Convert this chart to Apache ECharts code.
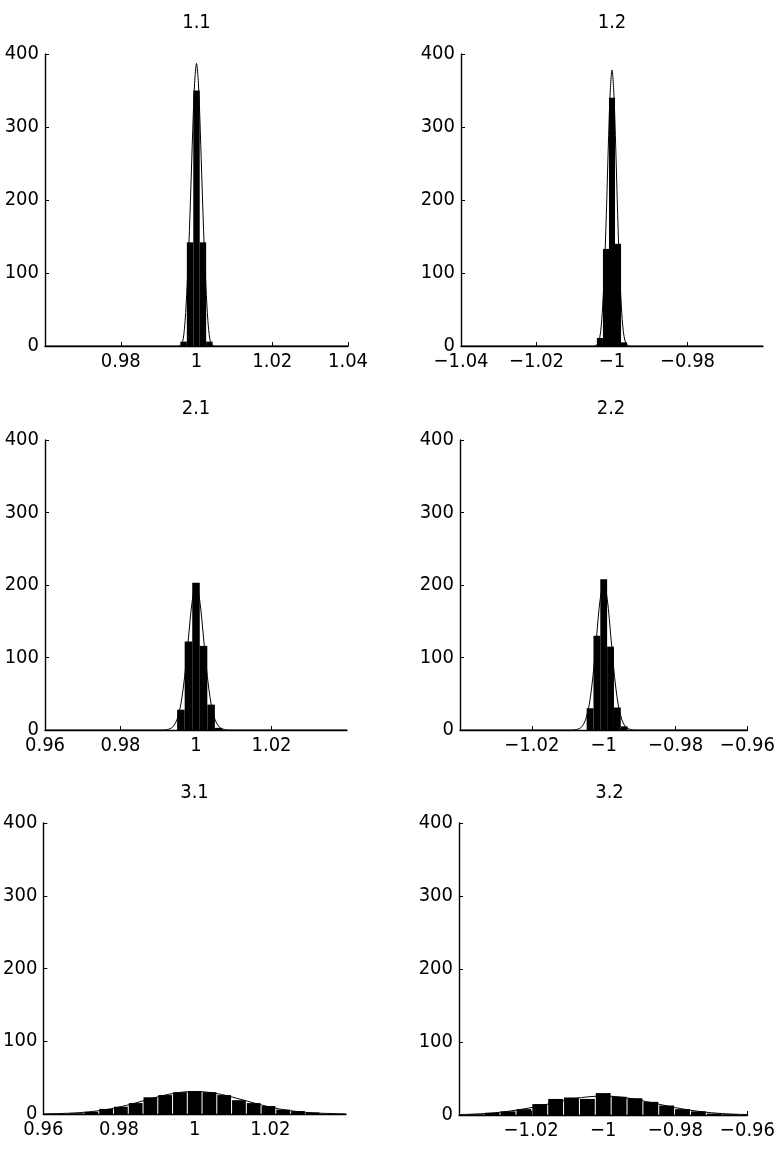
<!DOCTYPE html>
<html>
<head>
    <meta charset="UTF-8">
    <title>Histograms 1.1 - 3.2</title>
    <script src="https://cdn.jsdelivr.net/npm/echarts@6/dist/echarts.min.js"></script>
    <style>
        html, body { margin: 0; padding: 0; background: #fff; }
        #chart { width: 778px; height: 1157px; }
    </style>
</head>
<body>
    <div id="chart"></div>
    <script>
        // panel titles and the shared count axis
        var panelTitles = ['1.1', '1.2', '2.1', '2.2', '3.1', '3.2'];
        var yTicks = [0, 100, 200, 300, 400];

        // x limits of each panel
        var xLimits = [[0.96, 1.04], [-1.04, -0.96], [0.96, 1.04], [-1.04, -0.96], [0.96, 1.04], [-1.04, -0.96]];

        // histogram bins (centres, counts, bin width)
        var centers11 = [0.9966, 0.9983, 1.0, 1.0017, 1.0034];
        var counts11 = [6, 142, 350, 142, 6];
        var binWidth11 = 0.0017;

        var centers12 = [-1.0032, -1.0016, -1.0, -0.9984, -0.9968];
        var counts12 = [11, 133, 340, 140, 5];
        var binWidth12 = 0.0016;

        var centers21 = [0.996, 0.998, 1.0, 1.002, 1.004, 1.006];
        var counts21 = [28, 122, 203, 116, 35, 3];
        var binWidth21 = 0.002;

        var centers22 = [-1.0038, -1.0019, -1.0, -0.9981, -0.9962, -0.9943];
        var counts22 = [30, 130, 208, 115, 31, 5];
        var binWidth22 = 0.0019;

        var centers31 = [0.9688, 0.9727, 0.9766, 0.9805, 0.9844, 0.9883, 0.9922, 0.9961, 1.0,
                         1.0039, 1.0078, 1.0117, 1.0156, 1.0195, 1.0234, 1.0273, 1.0312];
        var counts31 = [1, 3, 7, 10, 15, 23, 26, 30, 31, 30, 26, 19, 15, 11, 6, 4, 2];
        var binWidth31 = 0.0039;

        var centers32 = [-1.0352, -1.0308, -1.0264, -1.022, -1.0176, -1.0132, -1.0088, -1.0044, -1.0,
                         -0.9956, -0.9912, -0.9868, -0.9824, -0.978, -0.9736, -0.9692, -0.9648];
        var counts32 = [1, 3, 5, 8, 15, 22, 24, 22, 30, 25, 23, 18, 13, 8, 5, 2, 1];
        var binWidth32 = 0.0044;

        // fitted curves
        var curveX11 = [0.96, 0.995, 0.9955, 0.996, 0.9965, 0.997, 0.9975, 0.998, 0.9985, 0.999, 0.9995, 1.0,
                        1.0005, 1.001, 1.0015, 1.002, 1.0025, 1.003, 1.0035, 1.004, 1.0045, 1.005, 1.04];
        var curveY11 = [0, 0, 0.5, 2, 10, 35, 80, 140, 215, 295, 360, 387,
                        360, 295, 215, 140, 80, 35, 10, 2, 0.5, 0, 0];

        var curveX12 = [-1.04, -1.005, -1.0045, -1.004, -1.0035, -1.003, -1.0025, -1.002, -1.0015, -1.001, -1.0005, -1.0,
                        -0.9995, -0.999, -0.9985, -0.998, -0.9975, -0.997, -0.9965, -0.996, -0.9955, -0.995, -0.96];
        var curveY12 = [0, 0, 0.3, 1.5, 6, 20, 52, 105, 180, 270, 345, 378,
                        345, 270, 180, 105, 52, 20, 6, 1.5, 0.3, 0, 0];

        var curveX21 = [0.96, 0.991, 0.992, 0.993, 0.994, 0.995, 0.996, 0.997, 0.998, 0.999, 1.0,
                        1.001, 1.002, 1.003, 1.004, 1.005, 1.006, 1.007, 1.008, 1.009, 1.04];
        var curveY21 = [0, 0, 0.3, 1.5, 5, 15, 36, 74, 127, 178, 200,
                        178, 127, 74, 36, 15, 5, 1.5, 0.3, 0, 0];

        var curveX22 = [-1.04, -1.009, -1.008, -1.007, -1.006, -1.005, -1.004, -1.003, -1.002, -1.001, -1.0,
                        -0.999, -0.998, -0.997, -0.996, -0.995, -0.994, -0.993, -0.992, -0.991, -0.96];
        var curveY22 = [0, 0, 0.3, 1.5, 5, 15, 36, 74, 128, 180, 202,
                        180, 128, 74, 36, 15, 5, 1.5, 0.3, 0, 0];

        var curveX31 = [0.96, 0.964, 0.968, 0.972, 0.976, 0.98, 0.984, 0.988, 0.992, 0.996, 1.0,
                        1.004, 1.008, 1.012, 1.016, 1.02, 1.024, 1.028, 1.032, 1.036, 1.04];
        var curveY31 = [0.2, 0.6, 1.4, 2.9, 5.5, 9.5, 14.6, 20.4, 25.8, 29.6, 31,
                        29.6, 25.8, 20.4, 14.6, 9.5, 5.5, 2.9, 1.4, 0.6, 0.2];

        var curveX32 = [-1.04, -1.036, -1.032, -1.028, -1.024, -1.02, -1.016, -1.012, -1.008, -1.004, -1.0,
                        -0.996, -0.992, -0.988, -0.984, -0.98, -0.976, -0.972, -0.968, -0.964, -0.96];
        var curveY32 = [0.6, 1.2, 2.3, 4.1, 6.7, 10.1, 14.2, 18.4, 22.3, 25, 26,
                        25, 22.3, 18.4, 14.2, 10.1, 6.7, 4.1, 2.3, 1.2, 0.6];

        var panels = [
            { centers: centers11, counts: counts11, width: binWidth11, cx: curveX11, cy: curveY11 },
            { centers: centers12, counts: counts12, width: binWidth12, cx: curveX12, cy: curveY12 },
            { centers: centers21, counts: counts21, width: binWidth21, cx: curveX21, cy: curveY21 },
            { centers: centers22, counts: counts22, width: binWidth22, cx: curveX22, cy: curveY22 },
            { centers: centers31, counts: counts31, width: binWidth31, cx: curveX31, cy: curveY31 },
            { centers: centers32, counts: counts32, width: binWidth32, cx: curveX32, cy: curveY32 }
        ];

        // layout
        var grids = [
            { left: 45, top: 54, width: 303, height: 292 },
            { left: 461, top: 54, width: 302, height: 292 },
            { left: 45, top: 440, width: 302, height: 290 },
            { left: 460, top: 440, width: 302, height: 290 },
            { left: 43, top: 823, width: 303, height: 291 },
            { left: 459, top: 823, width: 301, height: 292 }
        ];
        var titleTops = [13, 13, 399, 399, 783, 783];
        // which end label is hidden on each x axis
        var hideMin = [true, false, false, true, false, true];
        var hideMax = [false, true, true, false, true, false];
        // row 3 shows thin white gaps between bars
        var barGap = [0, 0, 0, 0, 1, 1];

        var FONT = '"Liberation Sans Narrow", "DejaVu Sans Condensed", "Liberation Sans", sans-serif';
        var FS = 20;

        function fmt(v) {
            return String(+v.toFixed(4)).replace('-', '\u2212');
        }

        function barRenderer(w, gap) {
            return function (params, api) {
                var x = api.value(0), y = api.value(1);
                var p0 = api.coord([x - w / 2, y]);
                var p1 = api.coord([x + w / 2, 0]);
                return {
                    type: 'rect',
                    shape: { x: p0[0] + gap / 2, y: p0[1], width: p1[0] - p0[0] - gap, height: p1[1] - p0[1] },
                    style: { fill: '#000' }
                };
            };
        }

        var option = { animation: false, backgroundColor: '#fff', title: [], grid: [], xAxis: [], yAxis: [], series: [] };

        panels.forEach(function (p, i) {
            var g = grids[i];
            option.grid.push({ left: g.left, top: g.top, width: g.width, height: g.height, containLabel: false });
            option.title.push({
                text: panelTitles[i], left: g.left + g.width / 2, top: titleTops[i], padding: 0,
                textAlign: 'center',
                textStyle: { color: '#000', fontSize: FS, fontWeight: 'normal', fontFamily: FONT }
            });
            option.xAxis.push({
                type: 'value', gridIndex: i, min: xLimits[i][0], max: xLimits[i][1], interval: 0.02,
                axisLine: { show: true, onZero: false, lineStyle: { color: '#000', width: 1.4 } },
                axisTick: { show: true, inside: true, length: 4, lineStyle: { color: '#000', width: 1 } },
                splitLine: { show: false },
                axisLabel: {
                    color: '#000', fontSize: FS, fontFamily: FONT, margin: 6,
                    showMinLabel: !hideMin[i], showMaxLabel: !hideMax[i], formatter: fmt
                }
            });
            option.yAxis.push({
                type: 'value', gridIndex: i, min: yTicks[0], max: yTicks[yTicks.length - 1], interval: yTicks[1] - yTicks[0],
                axisLine: { show: true, lineStyle: { color: '#000', width: 1.4 } },
                axisTick: { show: true, inside: true, length: 4, lineStyle: { color: '#000', width: 1 } },
                splitLine: { show: false },
                axisLabel: { color: '#000', fontSize: FS, fontFamily: FONT, margin: 6 }
            });
            option.series.push({
                type: 'custom', xAxisIndex: i, yAxisIndex: i, clip: true,
                data: p.centers.map(function (c, j) { return [c, p.counts[j]]; }),
                renderItem: barRenderer(p.width, barGap[i]), z: 2
            });
            option.series.push({
                type: 'line', xAxisIndex: i, yAxisIndex: i, clip: true,
                data: p.cx.map(function (x, j) { return [x, p.cy[j]]; }),
                symbol: 'none', smooth: 0.3,
                lineStyle: { color: '#000', width: 1 }, z: 3
            });
        });

        var chart = echarts.init(document.getElementById('chart'), null, { renderer: 'canvas' });
        chart.setOption(option);
    </script>
</body>
</html>
